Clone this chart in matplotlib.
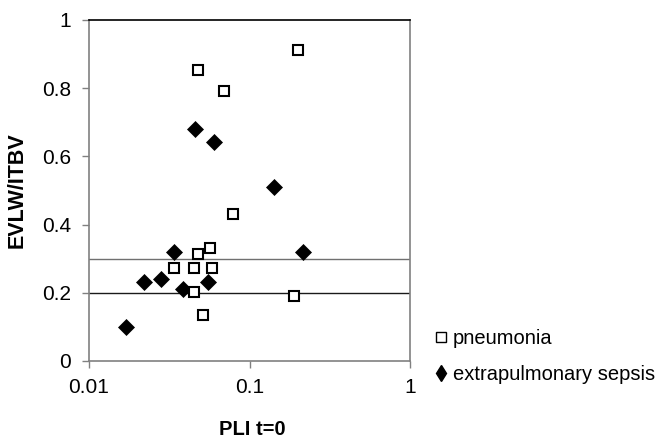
import matplotlib
matplotlib.use('Agg')
import matplotlib.pyplot as plt
from matplotlib.lines import Line2D

plt.rcParams['font.family'] = ['Liberation Sans', 'DejaVu Sans']

# %% data
pneumonia_pli = [0.20, 0.048, 0.069, 0.079, 0.048, 0.057,
                 0.034, 0.045, 0.058, 0.045, 0.190, 0.051]
pneumonia_ratio = [0.912, 0.853, 0.792, 0.431, 0.313, 0.332,
                   0.274, 0.274, 0.274, 0.203, 0.192, 0.135]
sepsis_pli = [0.046, 0.060, 0.142, 0.034, 0.215,
              0.022, 0.028, 0.0554, 0.0384, 0.0169]
sepsis_ratio = [0.679, 0.641, 0.509, 0.321, 0.321,
                0.231, 0.240, 0.231, 0.210, 0.100]
ref_lines = [0.2, 0.3]
ref_colors = ['#1a1a1a', '#707070']
x_ticks = [0.01, 0.1, 1]
x_ticklabels = ['0.01', '0.1', '1']
y_ticks = [0, 0.2, 0.4, 0.6, 0.8, 1]
y_ticklabels = ['0', '0.2', '0.4', '0.6', '0.8', '1']

# %% plot
fig = plt.figure(figsize=(6.61, 4.41), dpi=100)
ax = fig.add_axes([89/661, 80/441, 321/661, 341/441])

for yv, c in zip(ref_lines, ref_colors):
    ax.axhline(yv, color=c, lw=1.0, zorder=1)

ax.plot(sepsis_pli, sepsis_ratio, ls='none', marker='D', ms=8,
        mfc='black', mec='black', mew=0.5, zorder=3)
ax.plot(pneumonia_pli, pneumonia_ratio, ls='none', marker='s', ms=7.6,
        mfc='white', mec='black', mew=1.5, zorder=4)

ax.set_xscale('log')
ax.set_xlim(0.01, 1)
ax.set_ylim(0, 1)
ax.set_xticks(x_ticks)
ax.set_xticklabels(x_ticklabels)
ax.set_yticks(y_ticks)
ax.set_yticklabels(y_ticklabels)
ax.minorticks_off()
ax.tick_params(axis='both', direction='out', length=5, width=1,
               color='#808080', labelsize=15)
ax.tick_params(axis='y', pad=8)
ax.tick_params(axis='x', pad=7)

for side in ['left', 'bottom', 'right']:
    ax.spines[side].set_color('#808080')
    ax.spines[side].set_linewidth(1.2)
ax.spines['top'].set_color('black')
ax.spines['top'].set_linewidth(1.2)

ax.set_xlabel('PLI t=0', fontsize=14.5, fontweight='bold')
ax.set_ylabel('EVLW/ITBV', fontsize=15.5, fontweight='bold')
ax.xaxis.set_label_coords(0.51, -0.172)
ax.yaxis.set_label_coords(-0.19, 0.5)

handles = [
    Line2D([], [], ls='none', marker='s', ms=6.5, mfc='white', mec='black',
           mew=1.0),
    Line2D([], [], ls='none', marker='d', ms=8.5, mfc='black', mec='black'),
]
fig.legend(handles, ['pneumonia', 'extrapulmonary sepsis'],
           loc='upper left', bbox_to_anchor=(436/661, 1 - 329/441),
           frameon=False, fontsize=14.5, handlelength=0.5,
           handletextpad=0.35, labelspacing=0.85, borderaxespad=0,
           borderpad=0)

fig.savefig('out.png', dpi=100)
